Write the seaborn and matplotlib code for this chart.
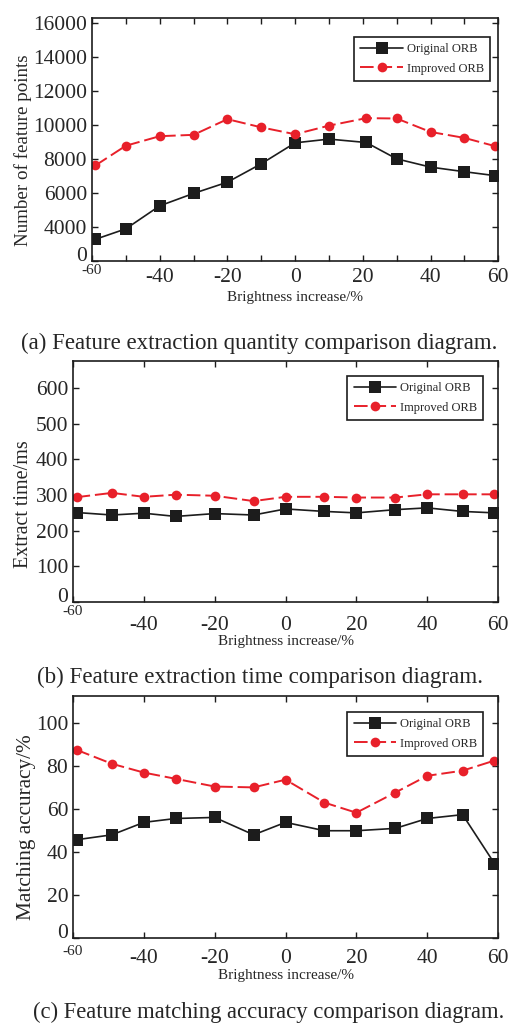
import numpy as np
import pandas as pd
import matplotlib
matplotlib.use("Agg")
import matplotlib.pyplot as plt
import seaborn as sns

# dados
brilho_a = [-59, -50, -40, -30, -20, -10, 0, 10, 21, 30, 40, 50, 59]
brilho_bc = [-59, -49, -40, -31, -20, -9, 0, 11, 20, 31, 40, 50, 59]

pontos_original = [2550, 3780, 5240, 5970, 6630, 7710, 8940, 9160, 8960, 8000, 7515, 7245, 7015]
pontos_melhorado = [7610, 8770, 9330, 9410, 10330, 9850, 9445, 9950, 10390, 10370, 9580, 9230, 8750]

tempo_original = [251, 244, 249, 240, 248, 244, 261, 254, 250, 259, 264, 254, 250]
tempo_melhorado = [294, 306, 295, 301, 298, 283, 295, 295, 293, 293, 302, 302, 302]

precisao_original = [45.8, 48.1, 53.9, 55.7, 56.2, 48.1, 53.9, 50.0, 50.0, 51.1, 55.7, 57.5, 34.7]
precisao_melhorado = [87.7, 81.2, 77.1, 74.2, 70.6, 70.2, 73.8, 63.1, 58.4, 67.8, 75.6, 78.0, 82.7]

yticks_a = [0, 4000, 6000, 8000, 10000, 12000, 14000, 16000]
yticks_b = [0, 100, 200, 300, 400, 500, 600]
yticks_c = [0, 20, 40, 60, 80, 100]
xticks = [-60, -40, -20, 0, 20, 40, 60]

legendas = ["Original ORB", "Improved ORB"]
legendas_fig = ["(a) Feature extraction quantity comparison diagram.",
                "(b) Feature extraction time comparison diagram.",
                "(c) Feature matching accuracy comparison diagram."]

sns.set_style("ticks")
plt.rcParams['font.family'] = ['Liberation Serif', 'DejaVu Serif']
plt.rcParams['axes.unicode_minus'] = False

PRETO = '#1c1c1c'
VERMELHO = '#e8202a'

fig = plt.figure(figsize=(5.11, 10.24), dpi=100)
ax1 = fig.add_axes([0.180, 0.7451, 0.795, 0.2373])
ax2 = fig.add_axes([0.1429, 0.4121, 0.8317, 0.2354])
ax3 = fig.add_axes([0.1429, 0.0840, 0.8317, 0.2363])


# eixo do painel (a): o rotulo 2000 some, 0-4000 ocupa um so intervalo
def fwd(y):
    y = np.asarray(y, dtype=float)
    return np.where(y < 4000, y / 2, y - 2000)


def inv(p):
    p = np.asarray(p, dtype=float)
    return np.where(p < 2000, p * 2, p + 2000)


def desenhar(ax, x, y_orig, y_melh):
    df = pd.DataFrame({'x': x, 'orig': y_orig, 'melh': y_melh})
    sns.lineplot(data=df, x='x', y='orig', ax=ax, color=PRETO, lw=1.2,
                 marker='s', markersize=8.5, markeredgewidth=0, label=legendas[0])
    sns.lineplot(data=df, x='x', y='melh', ax=ax, color=VERMELHO, lw=1.4,
                 marker='o', markersize=7, markeredgewidth=0, dashes=(7, 2.5),
                 label=legendas[1])


desenhar(ax1, brilho_a, pontos_original, pontos_melhorado)
desenhar(ax2, brilho_bc, tempo_original, tempo_melhorado)
desenhar(ax3, brilho_bc, precisao_original, precisao_melhorado)

ax1.set_yscale('function', functions=(fwd, inv))
ax1.set_ylim(0, 16270)
ax1.set_yticks(yticks_a)
ax1.set_xticks(np.arange(-60, 61, 10), minor=True)
ax1.yaxis.set_minor_locator(matplotlib.ticker.NullLocator())
ax2.set_ylim(0, 676)
ax2.set_yticks(yticks_b)
ax3.set_ylim(0, 112.8)
ax3.set_yticks(yticks_c)

ylabels = ["Number of feature points", "Extract time/ms", "Matching accuracy/%"]
ylabel_size = [13.7, 14.5, 15.3]
ylabel_x = [-0.148, -0.094, -0.088]
ylabel_y = [0.455, 0.405, 0.457]
xlabel_y = [-0.123, -0.135, -0.128]
pads = [5, 10, 8]
pad_60 = [2, 2, 5]
leg_anchor = [(0.980, 0.922), (0.965, 0.938), (0.965, 0.934)]

for i, ax in enumerate([ax1, ax2, ax3]):
    ax.set_xlim(-60, 60)
    ax.set_xticks(xticks)
    ax.set_xticklabels([str(t) for t in xticks])
    ax.tick_params(axis='both', which='both', direction='in', top=True, right=True,
                   length=4, width=1, color=PRETO, labelsize=15.5)
    ax.tick_params(axis='x', which='major', pad=pads[i])
    ax.tick_params(axis='y', pad=3.5)
    for s in ax.spines.values():
        s.set_linewidth(1.2)
        s.set_color(PRETO)
    ax.set_ylabel(ylabels[i], fontsize=ylabel_size[i])
    ax.yaxis.set_label_coords(ylabel_x[i], ylabel_y[i])
    ax.set_xlabel("Brightness increase/%", fontsize=11)
    ax.xaxis.set_label_coords(0.5, xlabel_y[i])
    ax.xaxis.label.set_va('top')
    # primeiro rotulo (-60) menor e colado ao eixo
    t0 = ax.xaxis.get_major_ticks()[0]
    t0.label1.set_fontsize(11)
    t0.set_pad(pad_60[i])
    # o "0" do eixo y fica um pouco acima da base
    ax.yaxis.get_major_ticks()[0].label1.set_va('baseline')
    leg = ax.legend(loc='upper right', bbox_to_anchor=leg_anchor[i], fontsize=9,
                    handlelength=3.4, handletextpad=0.3, labelspacing=0.6,
                    borderpad=0.5, borderaxespad=0,
                    fancybox=False, framealpha=1, edgecolor=PRETO)
    leg.get_frame().set_linewidth(1.2)

fig.text(0.507, 0.665, legendas_fig[0], ha='center', va='center', fontsize=16.5)
fig.text(0.509, 0.338, legendas_fig[1], ha='center', va='center', fontsize=16.6)
fig.text(0.526, 0.0117, legendas_fig[2], ha='center', va='center', fontsize=16.3)

fig.savefig("out.png", dpi=100)
